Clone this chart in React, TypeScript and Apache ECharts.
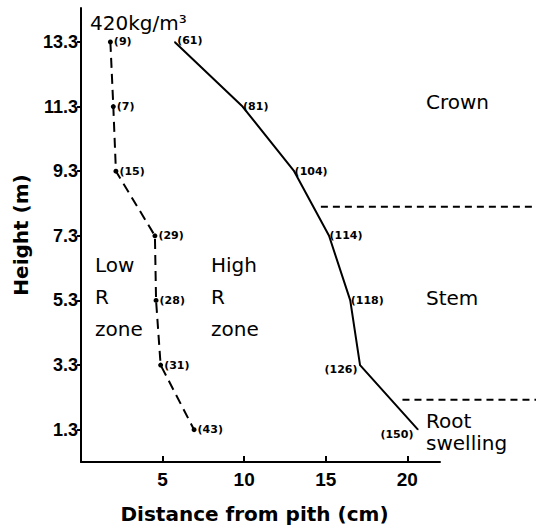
import React, { useEffect, useRef } from "react";
import * as echarts from "echarts";

const heights = [13.3, 11.3, 9.3, 7.3, 5.3, 3.3, 1.3];
const lowZoneX = [1.8, 1.98, 2.14, 4.53, 4.6, 4.88, 6.93];
const lowZoneLabels = ["(9)", "(7)", "(15)", "(29)", "(28)", "(31)", "(43)"];
const highZoneX = [5.74, 9.9, 13.06, 15.2, 16.5, 17.1, 20.65];
const highZoneLabels = ["(61)", "(81)", "(104)", "(114)", "(118)", "(126)", "(150)"];
const boundaryHeights = [8.2, 2.23];
const boundaryStartX = [14.7, 19.7];
const boundaryEndX = 28;
const xTicks = [5, 10, 15, 20];
const yTicks = [1.3, 3.3, 5.3, 7.3, 9.3, 11.3, 13.3];

const FONT = "DejaVu Sans";
const NUMFONT = "Liberation Sans";

export default function App() {
  const ref = useRef<HTMLDivElement>(null);
  useEffect(() => {
    if (!ref.current) return;
    const chart = echarts.init(ref.current, undefined, { renderer: "svg" });
    const highLabelCfg = (i: number) => {
      if (i === 0) return { position: "right", offset: [0, -1] };
      if (i === 5) return { position: "left", offset: [0, 4] };
      if (i === 6) return { position: "left", offset: [-2, 5] };
      return { position: "right", offset: [-2, 0] };
    };
    const textStyle = { fontFamily: FONT, fontSize: 20, fill: "#000" };
    chart.setOption({
      animation: false,
      grid: { left: 81, right: 96, top: 8, bottom: 65 },
      xAxis: {
        type: "value",
        min: 0,
        max: 22,
        interval: 5,
        name: "Distance from pith (cm)",
        nameLocation: "middle",
        nameGap: 42,
        nameTextStyle: { fontFamily: FONT, fontSize: 20, color: "#000", fontWeight: "bold", padding: [0, 12, 0, 0] },
        axisLine: { lineStyle: { color: "#000", width: 2 } },
        axisTick: { inside: true, length: 6, customValues: xTicks, lineStyle: { color: "#000", width: 2 } },
        axisLabel: { customValues: xTicks, fontFamily: NUMFONT, fontSize: 19, fontWeight: "bold", color: "#000", margin: 8 },
        splitLine: { show: false },
      },
      yAxis: {
        type: "value",
        min: 0.3,
        max: 14.35,
        name: "Height (m)",
        nameLocation: "middle",
        nameGap: 50,
        nameRotate: 90,
        nameTextStyle: { fontFamily: FONT, fontSize: 20, color: "#000", fontWeight: "bold" },
        axisLine: { lineStyle: { color: "#000", width: 2 } },
        axisTick: { inside: false, length: 4, customValues: yTicks, lineStyle: { color: "#000", width: 2 } },
        axisLabel: {
          customValues: yTicks,
          formatter: (v: number) => v.toFixed(1),
          fontFamily: NUMFONT,
          fontSize: 18,
          fontWeight: "bold",
          color: "#000",
          margin: 3,
        },
        splitLine: { show: false },
      },
      series: [
        {
          type: "line",
          data: heights.map((h, i) => ({ value: [lowZoneX[i], h], label: { formatter: lowZoneLabels[i] } })),
          symbol: "circle",
          symbolSize: 5,
          itemStyle: { color: "#000" },
          lineStyle: { color: "#000", width: 2, type: [10, 6] },
          label: {
            show: true,
            position: "right",
            distance: 1,
            fontFamily: FONT,
            fontSize: 11,
            fontWeight: "bold",
            color: "#000",
          },
        },
        {
          type: "line",
          data: heights.map((h, i) => ({
            value: [highZoneX[i], h],
            label: { formatter: highZoneLabels[i], ...highLabelCfg(i) },
          })),
          symbol: "circle",
          symbolSize: 1,
          showSymbol: true,
          itemStyle: { color: "#000" },
          lineStyle: { color: "#000", width: 2 },
          label: {
            show: true,
            distance: 2,
            fontFamily: FONT,
            fontSize: 11,
            fontWeight: "bold",
            color: "#000",
          },
        },
      ],
    });
    const lines = boundaryHeights.map((h, i) => {
      const p0 = chart.convertToPixel({ xAxisIndex: 0, yAxisIndex: 0 }, [boundaryStartX[i], h]) as number[];
      const p1 = chart.convertToPixel({ xAxisIndex: 0, yAxisIndex: 0 }, [boundaryEndX, h]) as number[];
      return {
        type: "line",
        shape: { x1: p0[0], y1: p0[1], x2: p1[0], y2: p1[1] },
        style: { stroke: "#000", lineWidth: 2, lineDash: [7, 5] },
      };
    });
    chart.setOption({
      graphic: [
        { type: "text", left: 90, top: 13, style: { ...textStyle, text: "420kg/m³" } },
        { type: "text", left: 426, top: 92, style: { ...textStyle, text: "Crown" } },
        { type: "text", left: 426, top: 288, style: { ...textStyle, text: "Stem" } },
        { type: "text", left: 426, top: 411, style: { ...textStyle, text: "Root" } },
        { type: "text", left: 426, top: 433, style: { ...textStyle, text: "swelling" } },
        { type: "text", left: 95, top: 249, style: { ...textStyle, text: "Low\nR\nzone", lineHeight: 32 } },
        { type: "text", left: 211, top: 249, style: { ...textStyle, text: "High\nR\nzone", lineHeight: 32 } },
        ...lines,
      ],
    });
    return () => chart.dispose();
  }, []);
  return <div ref={ref} style={{ width: 536, height: 529, position: "absolute", left: 0, top: 0 }} />;
}
